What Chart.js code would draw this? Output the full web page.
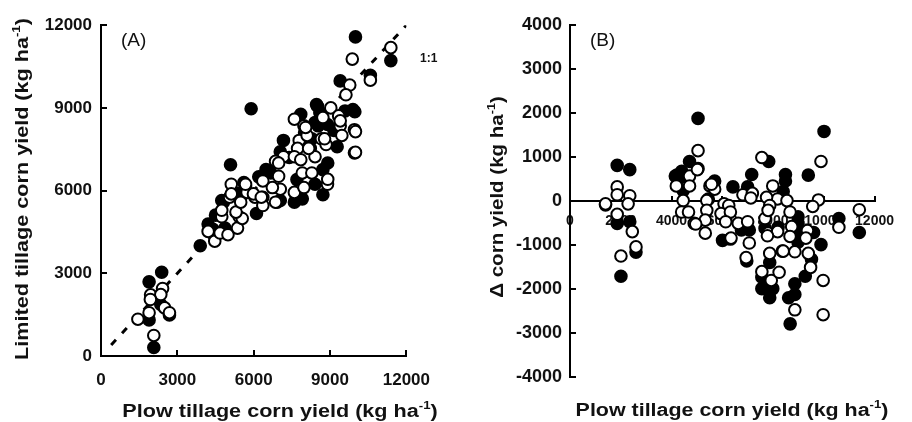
<!DOCTYPE html>
<html>
<head>
<meta charset="utf-8">
<script src="https://cdn.jsdelivr.net/npm/chart.js@4/dist/chart.umd.min.js"></script>
<style>
  body { margin: 0; background: #fff; }
  #wrap { position: relative; width: 912px; height: 422px; }
  canvas { position: absolute; top: 0; }
</style>
</head>
<body>
<div id="wrap">
  <canvas id="chartA" width="450" height="422" style="left:0"></canvas>
  <canvas id="chartB" width="462" height="422" style="left:450px"></canvas>
</div>
<script>
// panel A : plow tillage yield (x) vs limited tillage yield (y)
const aFilledPlow = [3900, 2385, 1890, 2350, 2690, 1890, 2075,
  4210, 4500, 4870, 4745, 5680, 6110, 7045, 7600, 7910, 8720, 8410,
  5900, 5090, 8470, 8600, 7850, 9900, 9590, 8410, 9155, 9280, 7170, 8160, 7045, 8910, 8720, 6485, 6670, 5615, 4810,
  10000, 11390, 10585, 9400, 9975, 8285, 8535, 8510, 7400, 8000, 8900, 7700, 5400, 4400, 6200];
const aFilledLimited = [4000, 3040, 2690, 1870, 1490, 1310, 310,
  4790, 5110, 4640, 5640, 6170, 5170, 5640, 5580, 5700, 5850, 6230,
  8970, 6940, 9120, 8820, 8770, 8940, 8890, 8470, 8180, 7590, 7820, 7760, 7410, 7000, 6760, 6760, 6640, 6290, 5580,
  11575, 10715, 10185, 9980, 8860, 7880, 8350, 9060, 7200, 8100, 8400, 6400, 5900, 4600, 6500];

const aOpenPlow = [2420, 1950, 2350, 1940, 2500, 2690, 1890, 1450, 2075,
  4470, 4210, 4680, 4990, 4745, 4745, 5055, 5365, 5430, 5550, 5305, 5490, 5740, 6050, 6360, 6360, 6920, 7045, 7600, 7975, 8900,
  9030, 7600, 9340, 8720, 7975, 9400, 9960, 9465, 8660, 8845, 9960, 7790, 8100, 8225, 7725, 8410, 7170, 6860, 6980, 7600, 7850,
  7910, 8285, 8910, 6980, 6360, 6735, 5680, 5990, 5120, 5120, 6300, 6860,
  9875, 11390, 10585, 9775, 9625, 10000, 10000, 9400, 8040, 8785, 8160];
const aOpenLimited = [2450, 2220, 2230, 2050, 1745, 1570, 1570, 1335, 745,
  4165, 4520, 4460, 4400, 5050, 5285, 5760, 4640, 5050, 4990, 5220, 5580, 5935, 5760, 5760, 5460, 5580, 6050, 5935, 6110, 6230,
  9000, 8590, 8710, 8650, 8350, 8350, 8210, 8000, 7880, 7670, 7370, 7820, 8000, 7530, 7530, 7230, 7230, 7060, 7000, 7230, 7120,
  6640, 6640, 6410, 6520, 6350, 6110, 6230, 5880, 6230, 5880, 5760, 5580,
  10770, 11185, 10005, 9830, 9475, 8140, 7385, 8530, 8290, 7880, 7530];

const oneToOne = [400, 12000];

// panel B : plow tillage yield (x) vs difference in yield (y)
const bFilledPlow = [1400, 1860, 2355, 1860, 2355, 2600, 2007,
  4150, 4400, 4460, 4340, 5045, 4710, 4215, 10010, 7830, 7160, 6420, 7000, 8490, 8490, 9390, 5700, 8400, 5450,
  6755, 7065, 6010, 7685, 10595, 11400, 8985, 9600, 8985, 8985, 9890, 6965, 7870, 9515, 9270, 7560, 7560, 7990,
  7870, 8860, 8860, 8615, 8675, 8985, 8200];
const bFilledDiff = [-90, 807, 710, -510, -475, -1163, -1711,
  563, 674, 230, 526, 1874, 896, 585, 1578, 896, 600, 318, 318, 600, 452, 585, 452, 215, 40,
  -660, -660, -896, -622, -400, -718, -363, -718, -718, -940, -993, -1363, -1400, -1326, -1711, -1733, -1993, -1993,
  -2200, -1882, -2126, -2200, -2793, -511, -600];

const bOpenPlow = [1860, 1860, 2355, 1400, 2290, 1860, 2455, 2600, 2007,
  4190, 4710, 4710, 4460, 4400, 4670, 5045, 5045, 9890, 7560, 7990, 5515, 5700, 6815, 7185, 7125, 8180, 7745,
  5020, 5575, 5390, 6070, 6255, 7870, 8550, 5390, 5330, 5330, 4895, 5950, 6320, 6135, 6630, 7000, 6320, 7065,
  6940, 7685, 7805, 8180, 8365, 8670, 8735, 7805, 9790, 9565, 11400, 10595, 9355, 8670, 9295, 7780, 7870, 8400,
  8860, 9390, 9480, 7560, 7930, 8240, 9975, 8860, 9975, 6345, 4955];
const bOpenDiff = [318, 140, 118, -67, -67, -304, -697, -1045, -1252,
  340, 563, 340, 7, -252, -252, 1141, 733, 896, 985, 340, 340, 267, 140, 170, 67, 44, 82,
  711, 378, 7, -67, -104, -104, 7, -215, -437, -733, -511, -289, -252, -474, -511, -474, -867, -956,
  -1289, -400, -733, -697, -1141, -252, -585, -215, 22, -126, -200, -600, -674, -807, -845, -793, -1193, -1141,
  -1156, -1193, -1511, -1607, -1807, -1622, -1807, -2474, -2585, -845, -526];

const aTicks = [0, 3000, 6000, 9000, 12000];
const bXTicks = [0, 2000, 4000, 6000, 8000, 10000, 12000];
const bYTicks = [-4000, -3000, -2000, -1000, 0, 1000, 2000, 3000, 4000];

function pts(xs, ys) {
  return xs.map((x, i) => ({ x: x, y: ys[i] }));
}

const FAMILY = '"Liberation Sans", Arial, sans-serif';
const INK = '#111';

function drawText(ctx, x, y, angle, stretch, pieces) {
  ctx.save();
  ctx.translate(x, y);
  ctx.rotate(angle);
  ctx.scale(stretch, 1);
  let total = 0;
  pieces.forEach(p => {
    ctx.font = p.font;
    p.w = ctx.measureText(p.text).width;
    total += p.w;
  });
  let cx = -total / 2;
  ctx.fillStyle = INK;
  ctx.textBaseline = 'alphabetic';
  ctx.textAlign = 'left';
  pieces.forEach(p => {
    ctx.font = p.font;
    ctx.fillText(p.text, cx, p.dy || 0);
    cx += p.w;
  });
  ctx.restore();
}

const BIG = 'bold 18px ' + FAMILY;
const SUP = 'bold 11px ' + FAMILY;

function unitPieces(lead) {
  return [
    { text: lead + ' (kg ha', font: BIG },
    { text: '-1', font: SUP, dy: -8 },
    { text: ')', font: BIG }
  ];
}

function plainText(ctx, text, x, y, font) {
  ctx.save();
  ctx.font = font;
  ctx.fillStyle = INK;
  ctx.textBaseline = 'alphabetic';
  ctx.fillText(text, x, y);
  ctx.restore();
}

function linAxis(min, max, ticks, pad, size, fit) {
  const axis = {
    type: 'linear',
    min: min,
    max: max,
    afterBuildTicks: s => { s.ticks = ticks.map(v => ({ value: v })); },
    ticks: {
      font: { family: FAMILY, size: size, weight: 'bold' },
      color: INK, padding: pad, callback: v => String(v), maxRotation: 0, autoSkip: false
    },
    grid: { drawOnChartArea: false, tickLength: -6, color: '#000', lineWidth: 2 },
    border: { color: '#000', width: 2 }
  };
  if (fit) axis.afterFit = fit;
  return axis;
}

const markOpen = { pointRadius: 5.8, borderWidth: 2, backgroundColor: '#fff', borderColor: '#000', pointHoverRadius: 5.8 };
const markFilled = { pointRadius: 5.8, borderWidth: 2, backgroundColor: '#000', borderColor: '#000', pointHoverRadius: 5.8 };

new Chart(document.getElementById('chartA'), {
  type: 'scatter',
  data: {
    datasets: [
      Object.assign({ label: 'open', data: pts(aOpenPlow, aOpenLimited), clip: false }, markOpen),
      Object.assign({ label: 'filled', data: pts(aFilledPlow, aFilledLimited), clip: false }, markFilled),
      {
        type: 'line', label: '1:1', data: pts(oneToOne, oneToOne),
        borderColor: '#000', borderWidth: 3, borderDash: [7, 9], pointRadius: 0, fill: false
      }
    ]
  },
  options: {
    responsive: false,
    animation: false,
    layout: { padding: { top: 17, right: 27, bottom: 4, left: 0 } },
    plugins: { legend: { display: false }, tooltip: { enabled: false } },
    scales: {
      x: linAxis(0, 12000, aTicks, 20, 17, s => { s.height = 62; }),
      y: linAxis(0, 12000, aTicks, 15, 17, s => { s.width = 101; })
    }
  },
  plugins: [{
    id: 'textA',
    afterDraw(chart) {
      const ctx = chart.ctx;
      drawText(ctx, 280, 417, 0, 1.2, unitPieces('Plow tillage corn yield'));
      drawText(ctx, 28, 189, -Math.PI / 2, 1.2, unitPieces('Limited tillage corn yield'));
      plainText(ctx, '(A)', 121, 46, '19px ' + FAMILY);
      plainText(ctx, '1:1', 420, 62, 'bold 12px ' + FAMILY);
    }
  }]
});

const bx = linAxis(0, 12000, bXTicks, 18, 14, null);
bx.position = { y: 0 };

new Chart(document.getElementById('chartB'), {
  type: 'scatter',
  data: {
    datasets: [
      Object.assign({ label: 'open', data: pts(bOpenPlow, bOpenDiff), clip: false }, markOpen),
      Object.assign({ label: 'filled', data: pts(bFilledPlow, bFilledDiff), clip: false }, markFilled)
    ]
  },
  options: {
    responsive: false,
    animation: false,
    layout: { padding: { top: 17, right: 19, bottom: 45, left: 0 } },
    plugins: { legend: { display: false }, tooltip: { enabled: false } },
    scales: {
      x: bx,
      y: linAxis(-4000, 4000, bYTicks, 14, 18, s => { s.width = 120; })
    }
  },
  plugins: [{
    id: 'textB',
    afterDraw(chart) {
      const ctx = chart.ctx;
      drawText(ctx, 282, 416, 0, 1.19, unitPieces('Plow tillage corn yield'));
      drawText(ctx, 53, 197, -Math.PI / 2, 1.14, unitPieces('\u0394 corn yield'));
      plainText(ctx, '(B)', 140, 46, '19px ' + FAMILY);
    }
  }]
});
</script>
</body>
</html>
